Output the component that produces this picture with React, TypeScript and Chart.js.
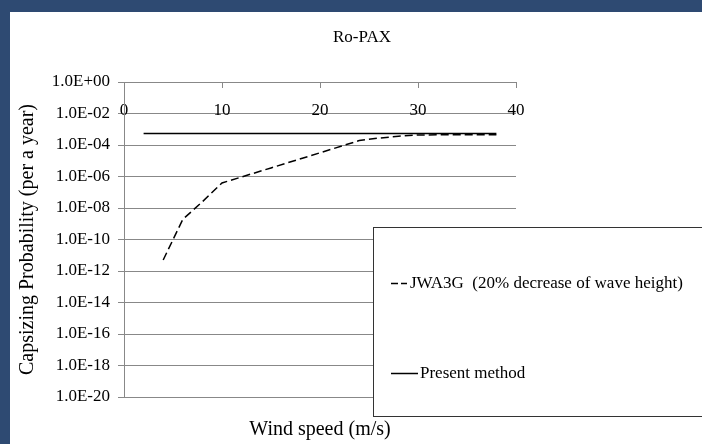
import React, { useEffect, useRef } from 'react';
import { Chart, registerables } from 'chart.js';

Chart.register(...registerables);

const chartTitle = 'Ro-PAX';
const xAxisTitle = 'Wind speed (m/s)';
const yAxisTitle = 'Capsizing Probability (per a year)';

const xTickValues = [0, 10, 20, 30, 40];
const xTickLabels = ['0', '10', '20', '30', '40'];

const yTickValues = [1e0, 1e-2, 1e-4, 1e-6, 1e-8, 1e-10, 1e-12, 1e-14, 1e-16, 1e-18, 1e-20];
const yTickLabels = [
  '1.0E+00', '1.0E-02', '1.0E-04', '1.0E-06', '1.0E-08', '1.0E-10',
  '1.0E-12', '1.0E-14', '1.0E-16', '1.0E-18', '1.0E-20',
];

const jwaLabel = 'JWA3G  (20% decrease of wave height)';
const jwaWind = [4, 6, 8, 10, 15, 20, 24, 26, 28, 30, 34, 38];
const jwaProb = [5e-12, 1.9e-9, 2.5e-8, 3.9e-7, 3.5e-6, 3.2e-5, 1.9e-4, 2.75e-4, 3.6e-4, 4.3e-4, 4.5e-4, 4.5e-4];

const presentLabel = 'Present method';
const presentWind = [2, 38];
const presentProb = [5.4e-4, 5.4e-4];

const SERIF = '"Liberation Serif", "Times New Roman", serif';
const GRID = '#888888';

const boxLegendPlugin = {
  id: 'boxLegend',
  afterDraw(chart: any) {
    const ctx = chart.ctx as CanvasRenderingContext2D;
    const ds = chart.data.datasets;
    ctx.save();
    ctx.fillStyle = '#ffffff';
    ctx.fillRect(363, 215, 400, 190);
    ctx.strokeStyle = '#333333';
    ctx.lineWidth = 1;
    ctx.strokeRect(363.5, 215.5, 400, 189);

    ctx.font = `17px ${SERIF}`;
    ctx.fillStyle = '#000';
    ctx.textBaseline = 'middle';
    ctx.textAlign = 'left';

    // entry 1: dashed
    ctx.strokeStyle = '#000';
    ctx.lineWidth = 1.5;
    ctx.setLineDash([7, 3]);
    ctx.beginPath();
    ctx.moveTo(381, 271.5);
    ctx.lineTo(397, 271.5);
    ctx.stroke();
    ctx.fillText(ds[0].label, 400, 271.5);

    // entry 2: solid
    ctx.setLineDash([]);
    ctx.beginPath();
    ctx.moveTo(381, 361.5);
    ctx.lineTo(408, 361.5);
    ctx.stroke();
    ctx.fillText(ds[1].label, 410, 361.5);
    ctx.restore();
  },
};

export default function App() {
  const canvasRef = useRef<HTMLCanvasElement>(null);

  useEffect(() => {
    const canvas = canvasRef.current;
    if (!canvas) return;
    const chart = new Chart(canvas, {
      type: 'line',
      data: {
        datasets: [
          {
            label: jwaLabel,
            data: jwaWind.map((x, i) => ({ x, y: jwaProb[i] })),
            borderColor: '#000',
            borderWidth: 1.5,
            borderDash: [8, 4],
            pointRadius: 0,
            tension: 0,
            fill: false,
            xAxisID: 'x',
            yAxisID: 'y',
          },
          {
            label: presentLabel,
            data: presentWind.map((x, i) => ({ x, y: presentProb[i] })),
            borderColor: '#000',
            borderWidth: 1.5,
            pointRadius: 0,
            tension: 0,
            fill: false,
            xAxisID: 'x',
            yAxisID: 'y',
          },
        ],
      },
      options: {
        animation: false,
        responsive: false,
        devicePixelRatio: 1,
        layout: { padding: { left: 12, right: 0, top: 0, bottom: 0 } },
        plugins: {
          legend: { display: false },
          tooltip: { enabled: false },
          title: {
            display: true,
            text: chartTitle,
            color: '#000',
            font: { family: SERIF, size: 17, weight: 'normal' },
            padding: { top: 15.8, bottom: 33.8 },
          },
        },
        scales: {
          x: {
            type: 'linear',
            position: { y: 1 },
            min: 0,
            max: 40,
            afterBuildTicks: (s: any) => {
              s.ticks = xTickValues.map((v) => ({ value: v }));
            },
            ticks: {
              autoSkip: false,
              maxRotation: 0,
              padding: 13,
              color: '#000',
              font: { family: SERIF, size: 17 },
              callback: (v: any) => xTickLabels[xTickValues.indexOf(Number(v))],
            },
            grid: { drawOnChartArea: false, drawTicks: true, tickLength: 5, color: GRID },
            border: { color: GRID },
          },
          x2: {
            type: 'linear',
            position: 'bottom',
            min: 0,
            max: 40,
            afterFit: (s: any) => {
              s.height = 47;
            },
            ticks: { display: false },
            grid: { display: false },
            border: { display: false },
            title: {
              display: true,
              text: xAxisTitle,
              color: '#000',
              font: { family: SERIF, size: 20 },
              padding: { top: 0, bottom: 2 },
            },
          },
          y: {
            type: 'logarithmic',
            position: 'left',
            min: 1e-20,
            max: 1,
            afterBuildTicks: (s: any) => {
              s.ticks = yTickValues.slice().reverse().map((v) => ({ value: v }));
            },
            afterFit: (s: any) => {
              s.width = 102;
            },
            ticks: {
              autoSkip: false,
              padding: 8,
              color: '#000',
              font: { family: SERIF, size: 17 },
              callback: (v: any) => {
                const idx = yTickValues.findIndex(
                  (t) => Math.abs(Math.log10(t) - Math.log10(Number(v))) < 1e-6
                );
                return idx >= 0 ? yTickLabels[idx] : '';
              },
            },
            grid: { color: GRID, lineWidth: 1, tickLength: 6 },
            border: { color: GRID },
            title: {
              display: true,
              text: yAxisTitle,
              color: '#000',
              font: { family: SERIF, size: 20 },
              padding: { top: -6, bottom: 0 },
            },
          },
          yR: {
            type: 'linear',
            position: 'right',
            afterFit: (s: any) => {
              s.width = 186;
            },
            ticks: { display: false },
            grid: { display: false },
            border: { display: false },
          },
        },
      } as any,
      plugins: [boxLegendPlugin],
    });
    return () => chart.destroy();
  }, []);

  return (
    <div
      style={{
        position: 'fixed',
        left: 0,
        top: 0,
        width: 702,
        height: 444,
        background: '#2e4a72',
        overflow: 'hidden',
      }}
    >
      <canvas
        ref={canvasRef}
        width={692}
        height={432}
        style={{ position: 'absolute', left: 10, top: 12, width: 692, height: 432, background: '#fff' }}
      />
    </div>
  );
}
